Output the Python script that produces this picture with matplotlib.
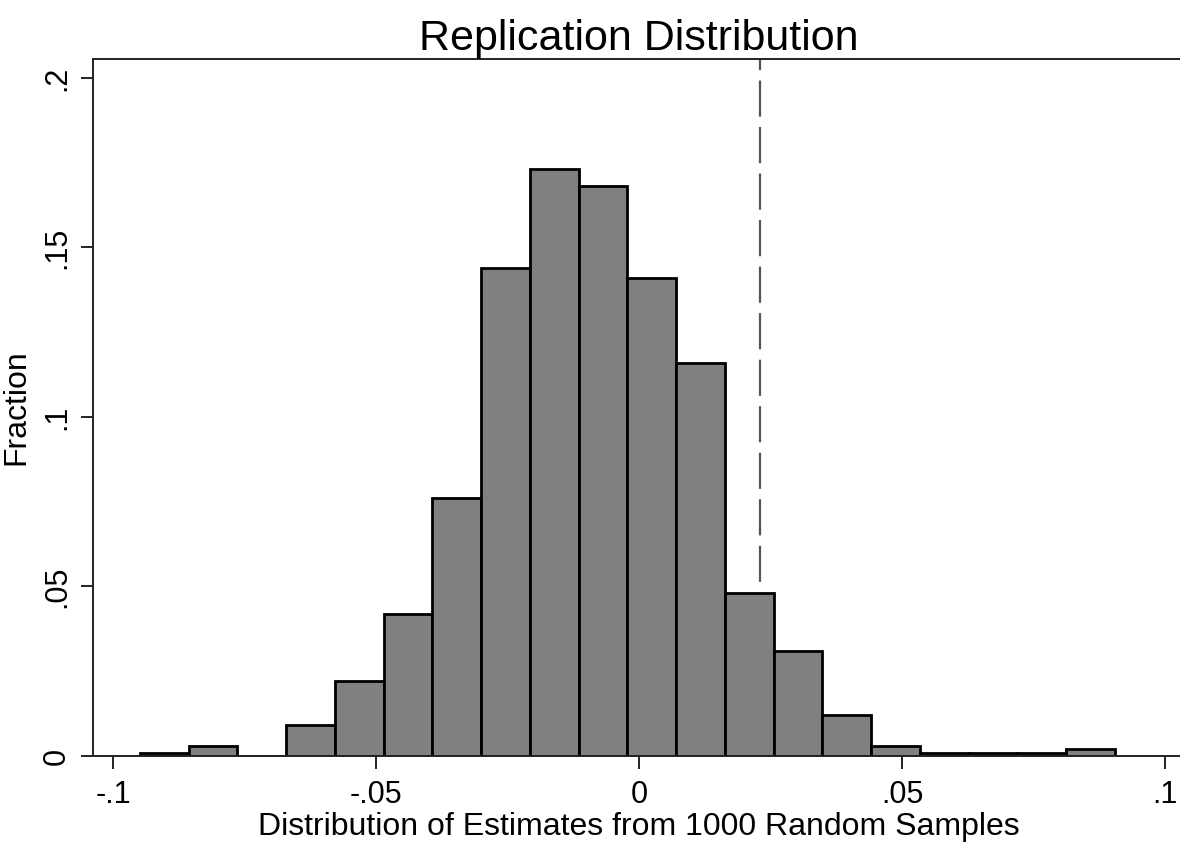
import numpy as np
import matplotlib
matplotlib.use("Agg")
import matplotlib.pyplot as plt

plt.rcParams['font.family'] = ['Liberation Sans', 'DejaVu Sans']
plt.rcParams['lines.scale_dashes'] = False

# histogram of the 1000 replication estimates (20 bins)
bin_start = -0.09487
bin_width = 0.009268
fractions = [0.001, 0.003, 0.0, 0.009, 0.022, 0.042, 0.076, 0.144, 0.173, 0.168,
             0.141, 0.116, 0.048, 0.031, 0.012, 0.003, 0.001, 0.001, 0.001, 0.002]
original_estimate = 0.0230

xticks = [-0.1, -0.05, 0, 0.05, 0.1]
xtick_labels = ['-.1', '-.05', '0', '.05', '.1']
yticks = [0, 0.05, 0.1, 0.15, 0.2]
ytick_labels = ['0', '.05', '.1', '.15', '.2']

edges = bin_start + bin_width * np.arange(len(fractions))
ytop = 0.2056

fig = plt.figure(figsize=(11.8, 8.46), dpi=100)
ax = fig.add_axes([0.0788, 0.1064, 0.9254, 0.8239])

# reference line drawn from the top down, behind the bars
ax.plot([original_estimate, original_estimate], [ytop, 0], color='#555555', lw=1.6,
        linestyle=(18, (26, 7.5)), zorder=1, clip_on=False)
ax.bar(edges, fractions, width=bin_width, align='edge', color='#808080',
       edgecolor='black', linewidth=2.0, zorder=2)

ax.set_xlim(-0.1038, 0.1038)
ax.set_ylim(0, ytop)
ax.set_xticks(xticks)
ax.set_xticklabels(xtick_labels)
ax.set_yticks(yticks)
ax.set_yticklabels(ytick_labels, rotation=90, va='center')

for s in ['left', 'bottom', 'top', 'right']:
    ax.spines[s].set_linewidth(1.4)
    ax.spines[s].set_color('#222222')

ax.tick_params(axis='both', labelsize=22, length=9, width=1.4, color='#222222')
ax.tick_params(axis='x', pad=8)
ax.tick_params(axis='y', pad=6)

ax.set_xlabel('Distribution of Estimates from 1000 Random Samples', fontsize=23, labelpad=2)
ax.set_ylabel('Fraction', fontsize=23, labelpad=8)
ax.set_title('Replication Distribution', fontsize=31, pad=4)

fig.savefig('out.png', dpi=100)
